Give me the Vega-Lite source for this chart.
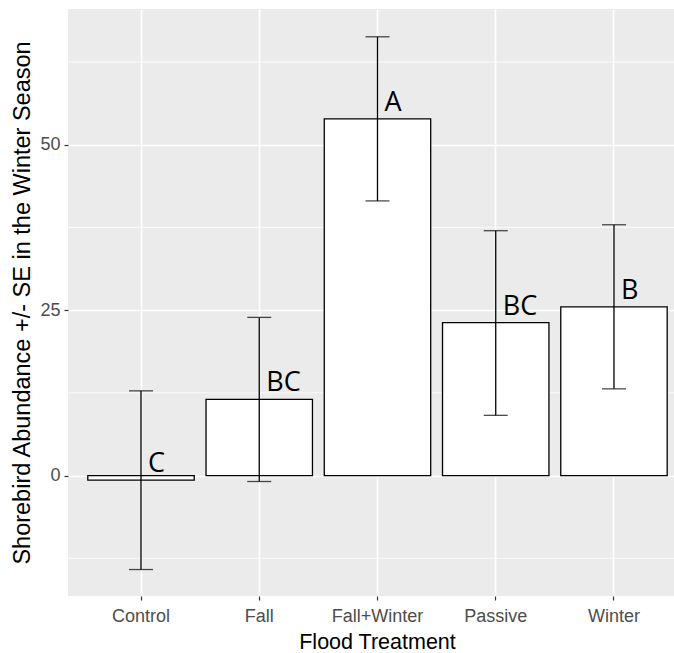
{
  "$schema": "https://vega.github.io/schema/vega-lite/v6.json",
  "width": 606,
  "height": 587,
  "autosize": {"type": "none"},
  "padding": {"left": 68, "top": 9, "right": 0, "bottom": 57},
  "background": "white",
  "config": {
    "view": {"fill": "#EBEBEB", "stroke": null},
    "font": "Liberation Sans"
  },
  "data": {
    "values": [
      {"treatment": "Control", "mean": -0.7, "lo": -14.2, "hi": 12.8, "letter": "C"},
      {"treatment": "Fall", "mean": 11.5, "lo": -0.9, "hi": 23.9, "letter": "BC"},
      {"treatment": "Fall+Winter", "mean": 53.9, "lo": 41.5, "hi": 66.3, "letter": "A"},
      {"treatment": "Passive", "mean": 23.1, "lo": 9.1, "hi": 37.0, "letter": "BC"},
      {"treatment": "Winter", "mean": 25.5, "lo": 13.1, "hi": 37.9, "letter": "B"}
    ]
  },
  "layer": [
    {
      "data": {"values": [{"v": -12.5}, {"v": 12.5}, {"v": 37.5}, {"v": 62.5}]},
      "mark": {"type": "rule", "color": "white", "strokeWidth": 0.8},
      "encoding": {
        "y": {
          "field": "v", "type": "quantitative",
          "scale": {"domain": [-18.2, 70.5], "nice": false, "zero": false},
          "axis": {
            "values": [0, 25, 50], "grid": true, "gridColor": "white", "gridWidth": 1.6,
            "tickSize": 4, "tickColor": "#333333", "tickWidth": 1.2, "labelPadding": 4,
            "labelFontSize": 18, "labelColor": "#4D4D4D", "domain": false,
            "title": "Shorebird Abundance +/- SE in the Winter Season",
            "titleFontSize": 23.5, "titleFontWeight": "normal", "titleColor": "black",
            "titlePadding": 5
          }
        }
      }
    },
    {
      "mark": {"type": "bar", "fill": "white", "stroke": "black", "strokeWidth": 1.3},
      "encoding": {
        "x": {
          "field": "treatment", "type": "nominal", "sort": null,
          "scale": {"paddingInner": 0.1, "paddingOuter": 0.1125, "align": 0.744},
          "axis": {
            "labelAngle": 0, "tickSize": 4, "tickColor": "#333333", "tickWidth": 1.2,
            "labelPadding": 7, "labelFontSize": 18, "labelColor": "#4D4D4D",
            "title": "Flood Treatment", "titleFontSize": 21.5, "titleFontWeight": "normal",
            "titleColor": "black", "titlePadding": 6, "titleX": 309,
            "domain": false, "grid": true, "gridColor": "white", "gridWidth": 1.6,
            "bandPosition": 0.5
          }
        },
        "y": {"field": "mean", "type": "quantitative"},
        "y2": {"datum": 0}
      }
    },
    {
      "mark": {"type": "rule", "color": "black", "strokeWidth": 1.3},
      "encoding": {
        "x": {"field": "treatment", "type": "nominal", "sort": null},
        "y": {"field": "lo", "type": "quantitative"},
        "y2": {"field": "hi"}
      }
    },
    {
      "mark": {"type": "tick", "color": "black", "size": 24, "thickness": 1.3},
      "encoding": {
        "x": {"field": "treatment", "type": "nominal", "sort": null},
        "y": {"field": "lo", "type": "quantitative"}
      }
    },
    {
      "mark": {"type": "tick", "color": "black", "size": 24, "thickness": 1.3},
      "encoding": {
        "x": {"field": "treatment", "type": "nominal", "sort": null},
        "y": {"field": "hi", "type": "quantitative"}
      }
    },
    {
      "mark": {"type": "text", "font": "Open Sans", "fontSize": 27, "color": "black", "align": "left", "baseline": "alphabetic", "dx": 7, "dy": -8},
      "encoding": {
        "x": {"field": "treatment", "type": "nominal", "sort": null},
        "y": {"field": "mean", "type": "quantitative"},
        "text": {"field": "letter"}
      }
    }
  ]
}
